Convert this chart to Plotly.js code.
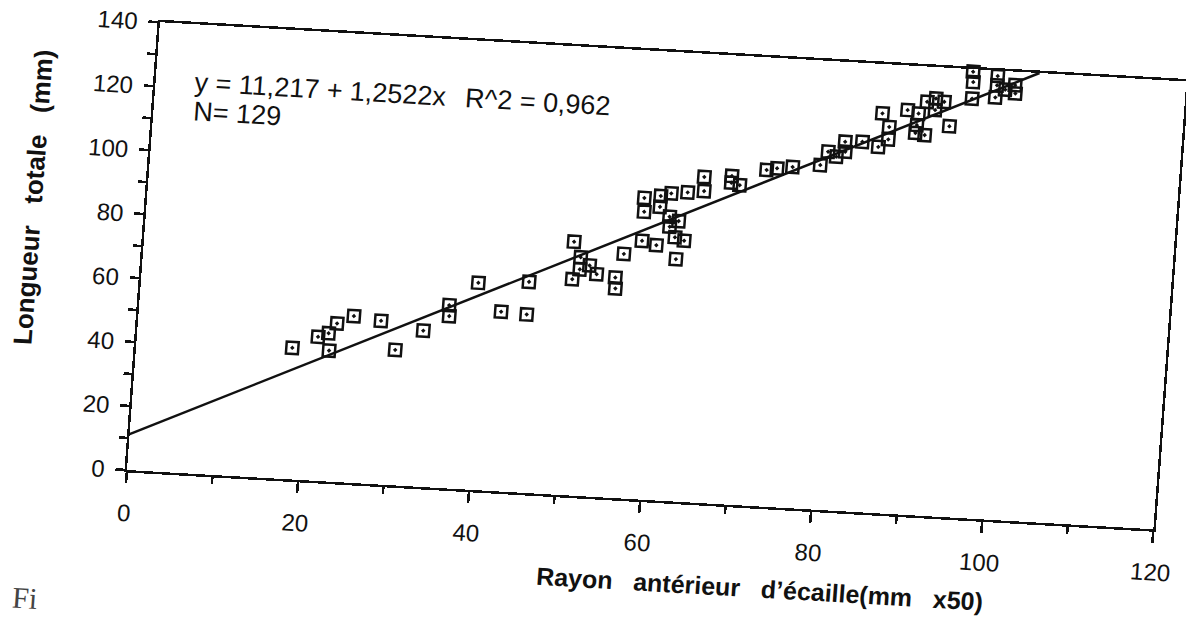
<!DOCTYPE html>
<html>
<head>
<meta charset="utf-8">
<script src="https://cdn.plot.ly/plotly-3.0.1.min.js"></script>
<style>
  html, body { margin: 0; padding: 0; background: #ffffff; overflow: hidden; }
  #chart { width: 1186px; height: 617px; transform-origin: 0 0;
           transform: matrix(0.99837, 0.05766, -0.07346, 0.99729, 34.73, -6.05); }
</style>
</head>
<body>
<div id="chart"></div>
<script>
// Scale radius (mm x50) and total length (mm)
const rayon = [18.2, 21.1, 22.3, 23.2, 25.1, 28.3, 30.2, 22.5, 33.3, 36.1, 36.2, 39.3, 42.2, 45.2, 45.2,
  50.1, 51.0, 52.1, 51.0, 50.2, 53.0, 55.2, 55.3, 56.0, 58.0, 59.7, 62.1, 57.9, 58.0, 59.8, 59.8, 61.0, 62.9, 64.7, 64.8, 61.0, 62.1, 61.1, 61.8, 62.9,
  67.9, 68.9, 67.9, 71.9, 73.1, 74.9, 78.1, 78.9, 79.9, 80.9, 80.8, 82.8, 84.7,
  84.9, 85.8, 85.8, 87.8, 89.1, 89.0, 88.9, 90.0, 90.0, 91.0, 92.0, 91.0, 92.8, 95.2, 95.1, 95.2, 98.0, 97.9, 99.0, 100.1, 100.2, 98.0];
const longueur = [41.0, 44.9, 46.2, 49.4, 52.0, 51.0, 42.2, 40.8, 48.7, 57.1, 53.7, 64.6, 56.0, 55.6, 65.8,
  79.1, 74.4, 72.0, 70.6, 67.4, 69.4, 68.7, 65.3, 76.2, 80.6, 79.5, 75.5, 94.0, 89.7, 94.9, 91.5, 95.9, 96.5, 101.6, 97.2, 88.6, 87.4, 85.5, 82.3, 81.4,
  102.4, 99.7, 100.3, 104.9, 105.6, 106.3, 107.4, 111.7, 110.3, 112.0, 115.1, 115.4, 114.1,
  124.6, 120.5, 116.6, 126.1, 125.2, 121.6, 119.1, 118.6, 129.0, 130.2, 129.3, 126.6, 121.8, 130.8, 139.2, 136.0, 138.3, 131.6, 134.2, 135.8, 133.2, 135.4];

// Regression  y = 11,217 + 1,2522x
const intercept = 11.217;
const slope = 1.2522;
const xRange = [0, 120];
const yRange = [0, 140];
const xTicks = [0, 20, 40, 60, 80, 100, 120];
const yTicks = [0, 20, 40, 60, 80, 100, 120, 140];

const xEnd = (yRange[1] - intercept) / slope;
const fitX = [xRange[0], xEnd];
const fitY = fitX.map(v => intercept + slope * v);

const sans = 'Liberation Sans, Arial, sans-serif';
const tickFont = { family: sans, size: 24, color: '#111' };

const traces = [
  { x: fitX, y: fitY, mode: 'lines', type: 'scatter',
    line: { color: '#111', width: 2.5 }, hoverinfo: 'skip', showlegend: false },
  { x: rayon, y: longueur, mode: 'markers', type: 'scatter', cliponaxis: false,
    marker: { symbol: 'square-open-dot', size: 12, color: '#111', line: { width: 2.5, color: '#111' } },
    showlegend: false }
];

const layout = {
  width: 1186, height: 617,
  margin: { l: 127, r: 31, t: 21, b: 147 },
  paper_bgcolor: '#ffffff', plot_bgcolor: '#ffffff',
  showlegend: false,
  xaxis: {
    range: xRange, tickvals: xTicks, ticktext: xTicks.map(String),
    showgrid: false, zeroline: false, showline: true, mirror: true,
    linecolor: '#111', linewidth: 2.5,
    ticks: 'outside', ticklen: 11, tickwidth: 2.5, tickcolor: '#111',
    ticklabelstandoff: 9,
    minor: { dtick: 10, ticks: 'outside', ticklen: 7, tickwidth: 2.5, tickcolor: '#111', showgrid: false },
    tickfont: tickFont
  },
  yaxis: {
    range: yRange, tickvals: yTicks, ticktext: yTicks.map(String),
    showgrid: false, zeroline: false, showline: true, mirror: true,
    linecolor: '#111', linewidth: 2.5,
    ticks: 'outside', ticklen: 9, tickwidth: 2.5, tickcolor: '#111',
    ticklabelstandoff: 6,
    minor: { dtick: 10, ticks: 'outside', ticklen: 8, tickwidth: 2.5, tickcolor: '#111', showgrid: false },
    tickfont: tickFont
  },
  annotations: [
    { xref: 'x', yref: 'y', x: 4.3, y: 121.8, xanchor: 'left', yanchor: 'middle', showarrow: false,
      text: 'y = 11,217 + 1,2522x', font: { family: sans, size: 27, color: '#111' } },
    { xref: 'x', yref: 'y', x: 36.0, y: 122.0, xanchor: 'left', yanchor: 'middle', showarrow: false,
      text: 'R^2 = 0,962', font: { family: sans, size: 27, color: '#111' } },
    { xref: 'x', yref: 'y', x: 4.4, y: 112.8, xanchor: 'left', yanchor: 'middle', showarrow: false,
      text: 'N= 129', font: { family: sans, size: 27, color: '#111' } },
    { xref: 'paper', yref: 'paper', x: 0.6225, y: -0.183, xanchor: 'center', yanchor: 'middle', showarrow: false,
      text: 'Rayon   antérieur   d\u2019écaille(mm   x50)',
      font: { family: sans, size: 25, color: '#111', weight: 'bold' } },
    { xref: 'paper', yref: 'paper', x: -0.1107, y: 0.595, xanchor: 'center', yanchor: 'middle', showarrow: false, textangle: -90,
      text: 'Longueur   totale   (mm)',
      font: { family: sans, size: 26, color: '#111', weight: 'bold' } },
    { xref: 'paper', yref: 'paper', x: -0.0898, y: -0.2976, xanchor: 'center', yanchor: 'middle', showarrow: false,
      text: 'Fi', font: { family: 'Liberation Serif, serif', size: 30, color: '#444' } }
  ]
};

Plotly.newPlot('chart', traces, layout, { displayModeBar: false, responsive: false, staticPlot: true });
</script>
</body>
</html>
